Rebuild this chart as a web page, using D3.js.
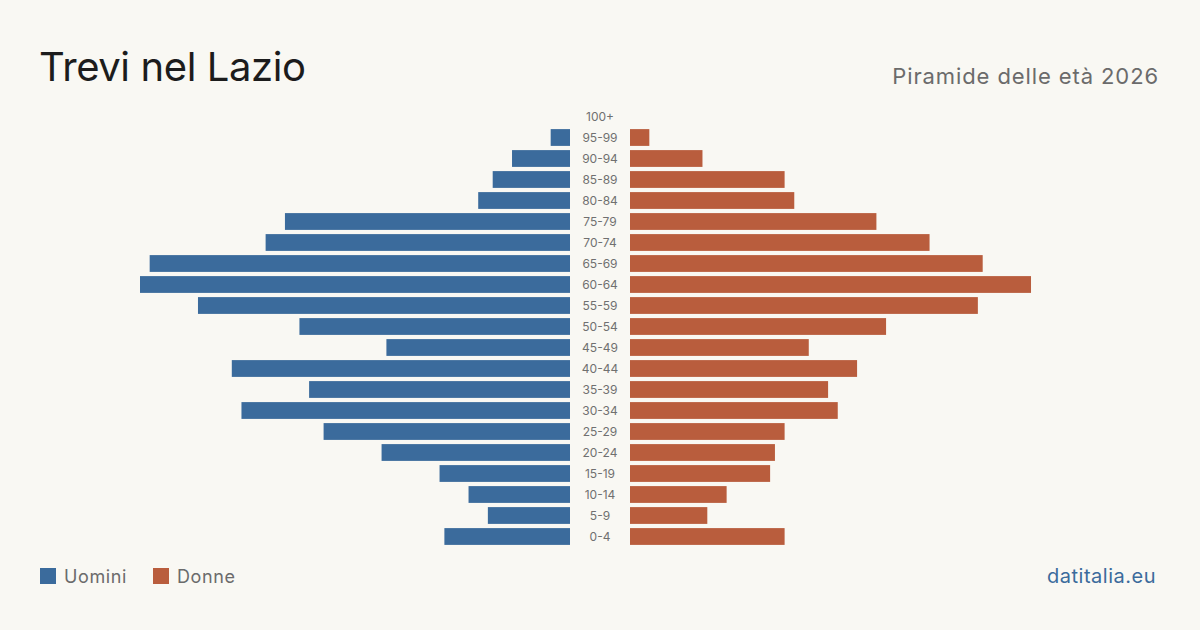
<!DOCTYPE html>
<html><head><meta charset="utf-8">
<script src="https://cdn.jsdelivr.net/npm/d3@7/dist/d3.min.js"></script>
<style>
html,body{margin:0;padding:0;background:#f9f8f3;}
svg{display:block;font-family:Inter,"Noto Sans",sans-serif;}
</style></head>
<body>
<svg id="chart" width="1200" height="630"></svg>
<script>
const ageGroups = ["100+","95-99","90-94","85-89","80-84","75-79","70-74","65-69","60-64","55-59","50-54","45-49","40-44","35-39","30-34","25-29","20-24","15-19","10-14","5-9","0-4"];
const men   = [0,4,12,16,19,59,63,87,89,77,56,38,70,54,68,51,39,27,21,17,26];
const women = [0,4,15,32,34,51,62,73,83,72,53,37,47,41,43,32,30,29,20,16,32];
const legendLabels = ["Uomini","Donne"];
const colors = {men:"#3b6b9c", women:"#b95d3d"};

const svg = d3.select("#chart");
svg.append("rect").attr("width",1200).attr("height",630).attr("fill","#f9f8f3");

const cx = 600, gap = 30;
const x = d3.scaleLinear().domain([0,89]).range([0,430]);
const y = d3.scaleBand().domain(ageGroups).range([106,547]).paddingInner(0.2).paddingOuter(0.1);

svg.append("g").selectAll("rect").data(ageGroups).join("rect")
  .attr("x",(d,i)=>cx-gap-x(men[i])).attr("y",d=>y(d))
  .attr("width",(d,i)=>x(men[i])).attr("height",y.bandwidth())
  .attr("fill",colors.men);
svg.append("g").selectAll("rect").data(ageGroups).join("rect")
  .attr("x",cx+gap).attr("y",d=>y(d))
  .attr("width",(d,i)=>x(women[i])).attr("height",y.bandwidth())
  .attr("fill",colors.women);

svg.append("g").selectAll("text").data(ageGroups).join("text")
  .attr("x",cx).attr("y",d=>y(d)+y.bandwidth()/2).attr("dy","0.35em")
  .attr("text-anchor","middle").attr("font-size",12).attr("fill","#707070")
  .text(d=>d);

svg.append("text").attr("x",39).attr("y",81).attr("font-size",40).attr("fill","#1c1c1c")
  .attr("letter-spacing","-0.4").text("Trevi nel Lazio");
svg.append("text").attr("x",1159).attr("y",84).attr("text-anchor","end").attr("font-size",22)
  .attr("letter-spacing","0.9").attr("fill","#6b6b6b").text("Piramide delle età 2026");

const lg = svg.append("g");
const lx = [40,153];
legendLabels.forEach((l,i)=>{
  lg.append("rect").attr("x",lx[i]).attr("y",568).attr("width",16).attr("height",16)
    .attr("fill",i===0?colors.men:colors.women);
  lg.append("text").attr("x",lx[i]+24).attr("y",583).attr("font-size",18)
    .attr("letter-spacing","0.6").attr("fill","#6b6b6b").text(l);
});
svg.append("text").attr("x",1156).attr("y",583).attr("text-anchor","end").attr("font-size",20)
  .attr("letter-spacing","0.5").attr("fill","#3b6b9c").text("datitalia.eu");
</script>
</body></html>
